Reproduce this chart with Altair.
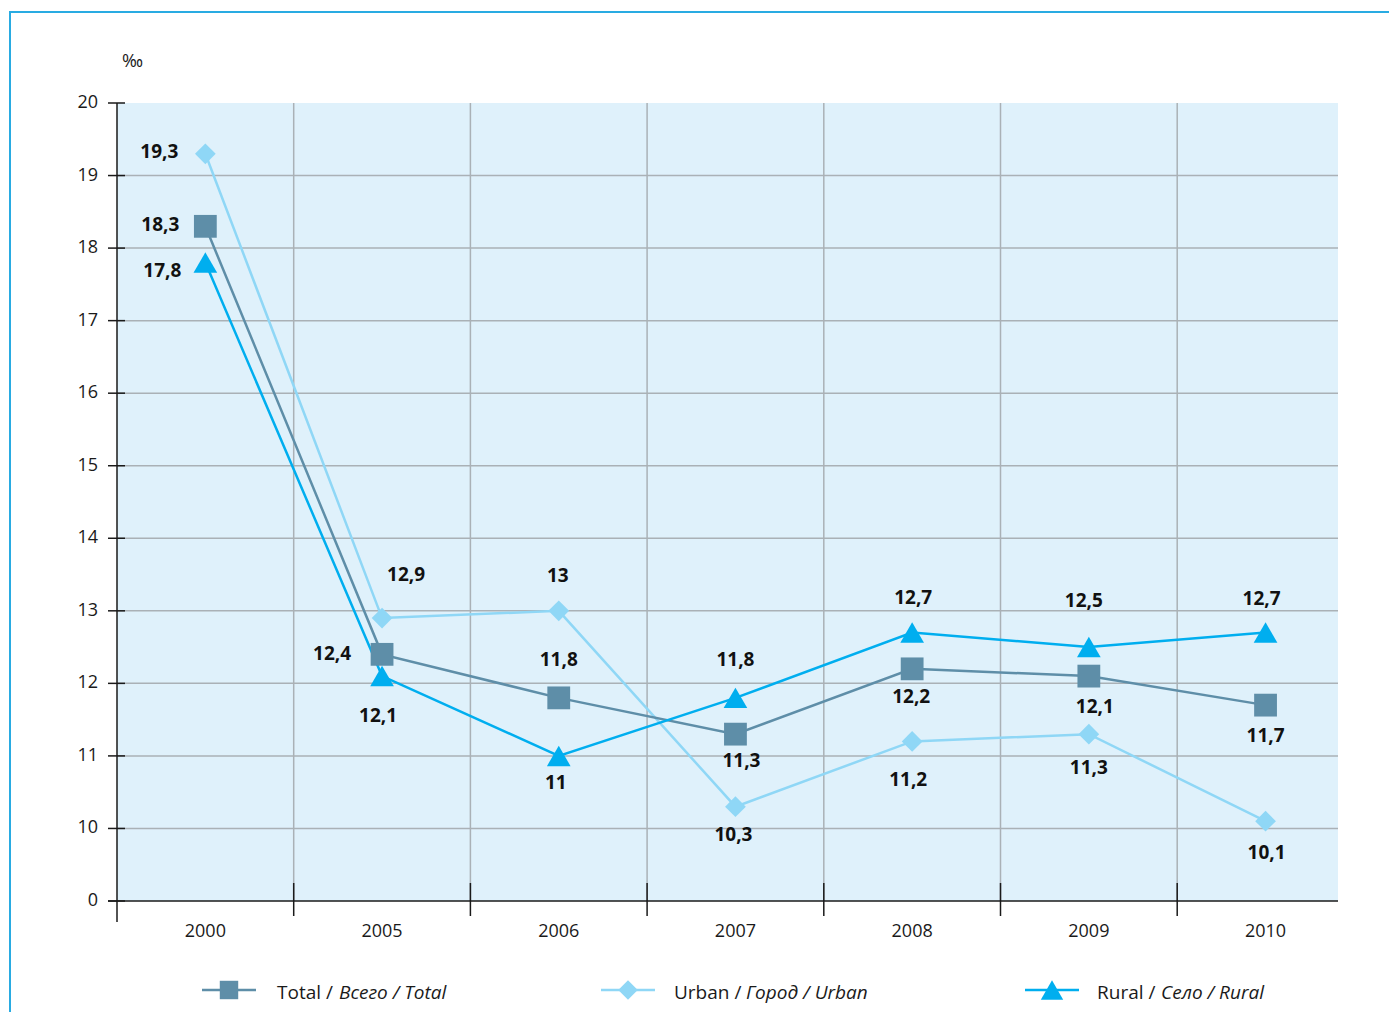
import altair as alt
import pandas as pd

# ---------------- data ----------------
years = ["2000", "2005", "2006", "2007", "2008", "2009", "2010"]
total = [18.3, 12.4, 11.8, 11.3, 12.2, 12.1, 11.7]
urban = [19.3, 12.9, 13.0, 10.3, 11.2, 11.3, 10.1]
rural = [17.8, 12.1, 11.0, 11.8, 12.7, 12.5, 12.7]
series_names = ["Total", "Urban", "Rural"]
y_levels = [9, 10, 11, 12, 13, 14, 15, 16, 17, 18, 19, 20]   # 9 stands for the broken-axis "0"
y_tick_labels = ["0", "10", "11", "12", "13", "14", "15", "16", "17", "18", "19", "20"]
unit_text = "‰"
legend_plain = ["Total / ", "Urban / ", "Rural / "]
legend_italic = ["Всего / Total", "Город / Urban", "Село / Rural"]

# ---------------- layout / style ----------------
W, H = 1379, 1000
PAD_L, PAD_T = 2, 4
X0 = 107.0            # left edge of plot (view px)
BAND = 176.7          # width of one year band
PLOT_END = 6.91       # right edge of the shaded area, in band units
Y_TOP, Y_BOT = 91.0, 889.0
PX_PER_Y = (Y_BOT - Y_TOP) / 11.0
FONT = "Open Sans"
COLORS = {"Total": "#5e8ea8", "Urban": "#8fd7f6", "Rural": "#00aeef"}
SHAPES = {"Total": "square", "Urban": "diamond", "Rural": "triangle-up"}
SIZES = {"Total": 520, "Urban": 430, "Rural": 560}
LEG_SIZES = {"Total": 340, "Urban": 380, "Rural": 500}
FRAME = "#29abe2"
BG = "#dff1fb"
GRID = "#aab1b6"
AXIS = "#1a1a1a"
# label offsets (px) relative to each point
LABEL_OFF = {
    "Total": [(-45, -1), (-50, 0), (0, -38), (6, 27), (-1, 28), (6, 31), (0, 31)],
    "Urban": [(-46, -2), (24, -43), (-1, -35), (-2, 28), (-4, 39), (0, 34), (1, 32)],
    "Rural": [(-43, 8), (-4, 40), (-3, 27), (0, -38), (1, -35), (-5, -46), (-4, -34)],
}
# legend layout (view px)
LEG_Y = 978
LEG_SYM_X = [219, 618, 1042]
LEG_TEXT_X = [267, 664, 1087]
LEG_ITAL_DX = [62, 72, 64]
LEG_LINE_HALF = 27
LEG_FONT_SIZE = 19

# ---------------- tables ----------------
values = {"Total": total, "Urban": urban, "Rural": rural}
rows = []
for s in series_names:
    for i, (yr, v) in enumerate(zip(years, values[s])):
        dx, dy = LABEL_OFF[s][i]
        rows.append({
            "series": s, "year": yr, "xpos": i + 0.5, "value": v,
            "label": f"{v:g}".replace(".", ","),
            "lx": i + 0.5 + dx / BAND, "ly": v - dy / PX_PER_Y,
        })
df = pd.DataFrame(rows)

years_df = pd.DataFrame({"year": years, "xpos": [i + 0.5 for i in range(len(years))]})
bounds_df = pd.DataFrame({"b": list(range(1, len(years)))})
ylev_df = pd.DataFrame({"lev": y_levels, "lab": y_tick_labels})
grid_df = ylev_df[(ylev_df.lev > 9) & (ylev_df.lev < 20)]
bg_df = pd.DataFrame({"x0": [0.0], "x1": [PLOT_END], "y0": [9.0], "y1": [20.0]})
one_df = pd.DataFrame({"a": [0]})

xs = alt.Scale(domain=[0, 7], range=[X0, X0 + 7 * BAND], nice=False, zero=False)
ys = alt.Scale(domain=[9, 20], range=[Y_BOT, Y_TOP], nice=False, zero=False)


def X(f, **kw):
    return alt.X(f, scale=xs, axis=None, **kw)


def Y(f, **kw):
    return alt.Y(f, scale=ys, axis=None, **kw)


layers = []

# outer frame (only left/top visible, rest clipped like the original)
layers.append(alt.Chart(one_df).mark_rect(fillOpacity=0, stroke=FRAME, strokeWidth=2).encode(
    x=alt.value(0), x2=alt.value(W + 60), y=alt.value(0), y2=alt.value(H + 60)))

# plot background
layers.append(alt.Chart(bg_df).mark_rect(fill=BG).encode(
    x=X("x0:Q"), x2="x1:Q", y=Y("y0:Q"), y2="y1:Q"))

# horizontal grid
layers.append(alt.Chart(grid_df).mark_rule(color=GRID, strokeWidth=1.5).encode(
    y=Y("lev:Q"), x=X("x0:Q"), x2="x1:Q").transform_calculate(x0="0", x1=str(PLOT_END)))

# vertical grid
layers.append(alt.Chart(bounds_df).mark_rule(color=GRID, strokeWidth=1.5).encode(
    x=X("b:Q"), y=Y("y0:Q"), y2="y1:Q").transform_calculate(y0="9", y1="20"))

# y ticks
layers.append(alt.Chart(ylev_df).mark_rule(color=AXIS, strokeWidth=1.5, xOffset=-9, x2Offset=8).encode(
    y=Y("lev:Q"), x=X("x0:Q"), x2="x0:Q").transform_calculate(x0="0"))

# x ticks at band boundaries
layers.append(alt.Chart(bounds_df).mark_rule(color=AXIS, strokeWidth=1.5, yOffset=-18, y2Offset=15).encode(
    x=X("b:Q"), y=Y("y0:Q"), y2="y0:Q").transform_calculate(y0="9"))

# axis lines
layers.append(alt.Chart(one_df).mark_rule(color=AXIS, strokeWidth=1.5, xOffset=-9).encode(
    y=Y("y0:Q"), x=X("x0:Q"), x2="x1:Q").transform_calculate(y0="9", x0="0", x1=str(PLOT_END)))
layers.append(alt.Chart(one_df).mark_rule(color=AXIS, strokeWidth=1.5, y2Offset=21).encode(
    x=X("x0:Q"), y=Y("y0:Q"), y2="y1:Q").transform_calculate(x0="0", y0="20", y1="9"))

# series lines and markers
for s in ["Urban", "Total", "Rural"]:
    sd = df[df.series == s]
    layers.append(alt.Chart(sd).mark_line(color=COLORS[s], strokeWidth=2.5).encode(
        x=X("xpos:Q"), y=Y("value:Q"), order="xpos:Q"))
for s in ["Urban", "Total", "Rural"]:
    sd = df[df.series == s]
    layers.append(alt.Chart(sd).mark_point(shape=SHAPES[s], size=SIZES[s], filled=True,
                                           fill=COLORS[s], opacity=1, strokeWidth=0).encode(
        x=X("xpos:Q"), y=Y("value:Q")))

# value labels
layers.append(alt.Chart(df).mark_text(font=FONT, fontSize=19, fontWeight="bold", color="#111111",
                                      align="center", baseline="middle").encode(
    x=X("lx:Q"), y=Y("ly:Q"), text="label:N"))

# y tick labels
layers.append(alt.Chart(ylev_df).mark_text(font=FONT, fontSize=18, color=AXIS, align="right",
                                           baseline="middle", dx=-19).encode(
    x=X("x0:Q"), y=Y("lev:Q"), text="lab:N").transform_calculate(x0="0"))

# x labels
layers.append(alt.Chart(years_df).mark_text(font=FONT, fontSize=18, color=AXIS, align="center",
                                            baseline="middle", dy=31).encode(
    x=X("xpos:Q"), y=Y("y0:Q"), text="year:N").transform_calculate(y0="9"))

# unit
layers.append(alt.Chart(pd.DataFrame({"t": [unit_text]})).mark_text(
    font=FONT, fontSize=18, color=AXIS, align="left", baseline="middle", dx=5, dy=-41).encode(
    x=X("x0:Q"), y=Y("y0:Q"), text="t:N").transform_calculate(x0="0", y0="20"))

# legend
for i, s in enumerate(series_names):
    cx = LEG_SYM_X[i]
    layers.append(alt.Chart(one_df).mark_rule(color=COLORS[s], strokeWidth=2.5).encode(
        x=alt.value(cx - LEG_LINE_HALF), x2=alt.value(cx + LEG_LINE_HALF), y=alt.value(LEG_Y)))
    layers.append(alt.Chart(one_df).mark_point(shape=SHAPES[s], size=LEG_SIZES[s], filled=True,
                                               fill=COLORS[s], opacity=1, strokeWidth=0).encode(
        x=alt.value(cx), y=alt.value(LEG_Y)))
    layers.append(alt.Chart(pd.DataFrame({"t": [legend_plain[i]]})).mark_text(
        font=FONT, fontSize=LEG_FONT_SIZE, color=AXIS, align="left", baseline="middle").encode(
        x=alt.value(LEG_TEXT_X[i]), y=alt.value(LEG_Y + 3), text="t:N"))
    layers.append(alt.Chart(pd.DataFrame({"t": [legend_italic[i]]})).mark_text(
        font=FONT, fontSize=LEG_FONT_SIZE, fontStyle="italic", color=AXIS, align="left",
        baseline="middle").encode(
        x=alt.value(LEG_TEXT_X[i] + LEG_ITAL_DX[i]), y=alt.value(LEG_Y + 3), text="t:N"))

chart = alt.layer(*layers).properties(
    width=W, height=H, autosize="none",
    padding={"left": PAD_L, "top": PAD_T, "right": 0, "bottom": 0},
).configure_view(stroke="transparent").configure(background="white")

chart.save("out.html", embed_options={"renderer": "svg", "actions": False})
